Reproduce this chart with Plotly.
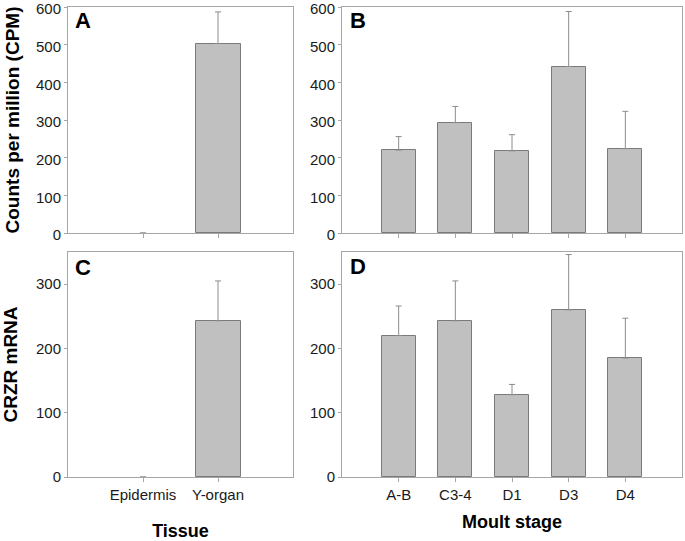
import plotly.graph_objects as go

# ---- data ----
tissues = ["Epidermis", "Y-organ"]
stages = ["A-B", "C3-4", "D1", "D3", "D4"]

cpm_tissue = [0, 503]
cpm_tissue_err = [None, 84]
cpm_stage = [220, 293, 218, 442, 224]
cpm_stage_err = [36, 43, 43, 146, 99]

crzr_tissue = [0, 243]
crzr_tissue_err = [None, 62]
crzr_stage = [220, 243, 128, 260, 185]
crzr_stage_err = [46, 62, 16, 86, 62]

# ---- style ----
W, H = 685, 541
FONT = "Liberation Sans"
BAR_FILL = "#c0c0c0"
BAR_LINE = "#7a7a7a"
FRAME = "#a6a6a6"
ERR = "#8c8c8c"

def px_x(a, b):
    return [a / W, b / W]

def px_y(top, bottom):
    return [1 - bottom / H, 1 - top / H]

fig = go.Figure()

def add_bars(x, y, err, xa, ya):
    fig.add_trace(go.Bar(
        x=x, y=y, xaxis=xa, yaxis=ya, width=0.6,
        marker=dict(color=BAR_FILL,
                    line=dict(color=BAR_LINE, width=[1 if v else 0 for v in y])),
        error_y=dict(type="data", array=err, arrayminus=[0] * len(err),
                     symmetric=False, color=ERR, thickness=1, width=3),
        showlegend=False,
    ))

add_bars(tissues, cpm_tissue, cpm_tissue_err, "x", "y")
add_bars(stages, cpm_stage, cpm_stage_err, "x2", "y2")
add_bars(tissues, crzr_tissue, crzr_tissue_err, "x3", "y3")
add_bars(stages, crzr_stage, crzr_stage_err, "x4", "y4")

common_axis = dict(showline=True, linecolor=FRAME, linewidth=1, mirror=True,
                   showgrid=False, zeroline=False, ticks="outside",
                   tickcolor=FRAME, ticklabeloverflow="allow", automargin=False,
                   tickfont=dict(family=FONT, size=15, color="#1a1a1a"))

xA = px_x(68, 293)
xB = px_x(342, 682)
yTop = px_y(7, 233)
yBot = px_y(252, 477)

title_font = dict(family=FONT, size=18, color="black")
ytitle_font = dict(family=FONT, size=19, color="black")

fig.update_layout(
    width=W, height=H,
    margin=dict(l=0, r=0, t=0, b=0),
    paper_bgcolor="white", plot_bgcolor="white",
    bargap=0,
    xaxis=dict(domain=xA, anchor="y", range=[-1, 2], showticklabels=False,
               ticklen=4, **common_axis),
    xaxis2=dict(domain=xB, anchor="y2", range=[-1, 5], showticklabels=False,
                ticklen=4, **common_axis),
    xaxis3=dict(domain=xA, anchor="y3", range=[-1, 2], ticklen=4,
                title=dict(text="<b>Tissue</b>", font=title_font, standoff=22),
                **common_axis),
    xaxis4=dict(domain=xB, anchor="y4", range=[-1, 5], ticklen=4,
                title=dict(text="<b>Moult stage</b>", font=title_font, standoff=13),
                **common_axis),
    yaxis=dict(domain=yTop, anchor="x", range=[0, 600], dtick=100, ticklen=3,
               ticklabelshift=2,
               title=dict(text="<b>Counts per million (CPM)</b>", font=ytitle_font, standoff=11),
               **common_axis),
    yaxis2=dict(domain=yTop, anchor="x2", range=[0, 600], dtick=100, ticklen=3,
                ticklabelshift=2, **common_axis),
    yaxis3=dict(domain=yBot, anchor="x3", range=[0, 350], dtick=100, ticklen=3,
                title=dict(text="<b>CRZR mRNA</b>", font=ytitle_font, standoff=15),
                **common_axis),
    yaxis4=dict(domain=yBot, anchor="x4", range=[0, 350], dtick=100, ticklen=3,
                **common_axis),
)

letters = [("A", 73, 20), ("B", 348, 20), ("C", 73, 267), ("D", 348, 266)]
for txt, x, y in letters:
    fig.add_annotation(text="<b>%s</b>" % txt, xref="paper", yref="paper",
                       x=x / W, y=1 - y / H, xanchor="left", yanchor="middle",
                       showarrow=False, font=dict(family=FONT, size=22, color="black"))

fig.write_html("out.html", config={"displayModeBar": False},
               post_script="document.body.style.margin='0';document.body.style.overflow='hidden';")
